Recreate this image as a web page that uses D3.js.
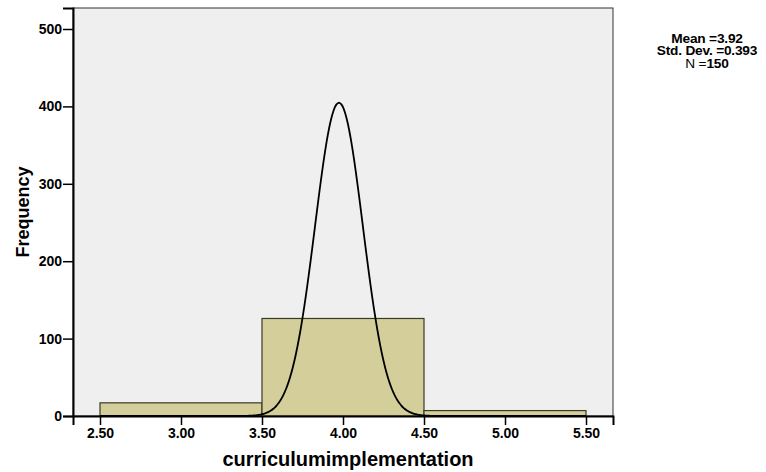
<!DOCTYPE html>
<html>
<head>
<meta charset="utf-8">
<script src="https://cdn.jsdelivr.net/npm/d3@7"></script>
<style>
  html, body { margin: 0; padding: 0; background: #fff; }
  svg { display: block; font-family: "Liberation Sans", Arial, sans-serif; }
</style>
</head>
<body>
<svg id="chart" width="766" height="472"></svg>
<script>
// ---- data ----
const binStarts = [2.5, 3.5, 4.5];
const binEnds   = [3.5, 4.5, 5.5];
const counts    = [17, 126, 7];
const xTicks    = [2.5, 3.0, 3.5, 4.0, 4.5, 5.0, 5.5];
const yTicks    = [0, 100, 200, 300, 400, 500];
const curveCenter = 3.975;   // position of fitted curve peak as drawn
const curveSpread = 0.1475;  // spread of drawn curve
const curvePeak   = 405;     // height of drawn curve peak
const statLabels  = [["Mean =", "3.92"], ["Std. Dev. =", "0.393"], ["N =", "150"]];
const xTitle = "curriculumimplementation";
const yTitle = "Frequency";

// ---- layout ----
const svg = d3.select("#chart");
const L = 73, R = 613, T = 8, B = 416;

const x = d3.scaleLinear().domain([2.5 - 27/162, 5.5 + 27/162]).range([L, R]);
const y = d3.scaleLinear().domain([0, (B - T) / 0.774]).range([B, T]);

// plot background
svg.append("rect").attr("x", L).attr("y", T).attr("width", R - L).attr("height", B - T)
  .attr("fill", "#efefef").attr("stroke", "#333").attr("stroke-width", 1);

// bars
svg.append("g").selectAll("rect").data(counts).join("rect")
  .attr("x", (d, i) => x(binStarts[i]))
  .attr("width", (d, i) => x(binEnds[i]) - x(binStarts[i]))
  .attr("y", d => y(d))
  .attr("height", d => y(0) - y(d))
  .attr("fill", "#d3ce9a")
  .attr("stroke", "#3a3a28")
  .attr("stroke-width", 1.2);

// normal curve
const curvePts = d3.range(0, 301).map(i => {
  const v = 2.5 + i * 0.01;
  return [v, curvePeak * Math.exp(-((v - curveCenter) ** 2) / (2 * curveSpread ** 2))];
});
svg.append("path").datum(curvePts)
  .attr("fill", "none").attr("stroke", "#000").attr("stroke-width", 1.8)
  .attr("d", d3.line().x(d => x(d[0])).y(d => y(d[1])).curve(d3.curveBasis));

// axes
const xAxis = d3.axisBottom(x).tickValues(xTicks).tickFormat(d3.format(".2f")).tickSizeOuter(0).tickSize(9).tickPadding(3);
const gx = svg.append("g").attr("transform", `translate(0,${B})`).call(xAxis);
gx.select(".domain").attr("stroke", "#000").attr("stroke-width", 2);
gx.selectAll(".tick line").attr("stroke", "#000").attr("stroke-width", 1.5);
gx.selectAll(".tick text").attr("font-size", 14).attr("font-weight", "bold").attr("fill", "#000")
  .attr("font-family", "Liberation Sans, Arial, sans-serif");

const yAxis = d3.axisLeft(y).tickValues(yTicks).tickFormat(d3.format("d")).tickSizeOuter(0).tickSize(10).tickPadding(1);
const gy = svg.append("g").attr("transform", `translate(${L},0)`).call(yAxis);
gy.select(".domain").attr("stroke", "#000").attr("stroke-width", 2);
gy.selectAll(".tick line").attr("stroke", "#000").attr("stroke-width", 1.5);
gy.selectAll(".tick text").attr("font-size", 14).attr("font-weight", "bold").attr("fill", "#000")
  .attr("font-family", "Liberation Sans, Arial, sans-serif");

// axis titles
svg.append("text").attr("x", 348).attr("y", 466).attr("text-anchor", "middle")
  .attr("font-size", 20).attr("font-weight", "bold").text(xTitle);
svg.append("text").attr("transform", "translate(29,212) rotate(-90)").attr("text-anchor", "middle")
  .attr("font-size", 18).attr("font-weight", "bold").text(yTitle);

// stats box
const stat = svg.append("g");
statLabels.forEach((s, i) => {
  const t = stat.append("text").attr("x", 707).attr("y", 43 + i * 12.3).attr("text-anchor", "middle")
    .attr("font-size", 13.7).attr("letter-spacing", -0.2);
  t.append("tspan").attr("font-weight", i === 2 ? "normal" : "bold").text(s[0]);
  t.append("tspan").attr("font-weight", "bold").text(s[1]);
});
</script>
</body>
</html>
